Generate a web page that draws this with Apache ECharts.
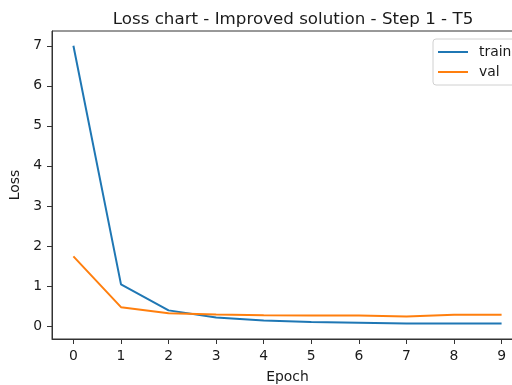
<!DOCTYPE html>
<html>
<head>
<meta charset="utf-8">
<script src="https://cdn.jsdelivr.net/npm/echarts@6/dist/echarts.min.js"></script>
<style>
  html, body { margin: 0; padding: 0; background: #fff; }
  #chart { width: 512px; height: 385px; }
</style>
</head>
<body>
<div id="chart"></div>
<script>
const epochs = [0, 1, 2, 3, 4, 5, 6, 7, 8, 9]
const trainLoss = [7.0, 1.04, 0.39, 0.21, 0.14, 0.1, 0.08, 0.06, 0.06, 0.06]
const valLoss = [1.74, 0.47, 0.32, 0.29, 0.27, 0.26, 0.26, 0.24, 0.28, 0.28]
const yTicks = [0, 1, 2, 3, 4, 5, 6, 7]

const font = "DejaVu Sans"
const ink = "#1a1a1a"
const spine = "#333"

let myChart = echarts.init(document.getElementById("chart"))

const pairs = (ys) => epochs.map((x, i) => [x, ys[i]])

myChart.setOption({
  animation: false,
  title: {
    text: "Loss chart - Improved solution - Step 1 - T5",
    left: 288,
    top: 6,
    textAlign: "center",
    textStyle: { fontFamily: font, fontSize: 16.7, fontWeight: "normal", color: ink },
  },
  legend: {
    orient: "vertical",
    left: 433,
    top: 39,
    padding: [6, 20, 6, 5],
    itemGap: 6,
    itemWidth: 30,
    itemHeight: 2,
    icon: "rect",
    borderColor: "#d0d0d0",
    borderWidth: 1,
    borderRadius: 3,
    backgroundColor: "#fff",
    textStyle: { fontFamily: font, fontSize: 13.9, lineHeight: 14, color: ink, padding: [0, 0, 0, 6] },
    data: ["train", "val"],
  },
  // axes box runs past the right edge of the picture, like the reference
  grid: {
    left: 52,
    top: 31,
    width: 471,
    height: 308,
    show: true,
    borderColor: spine,
    borderWidth: 1,
    outerBoundsMode: "none",
    containLabel: false,
  },
  xAxis: {
    type: "value",
    min: -0.45,
    max: 9.45,
    name: "Epoch",
    nameLocation: "middle",
    nameGap: 31,
    nameTextStyle: { fontFamily: font, fontSize: 13.9, color: ink },
    axisLine: { show: true, onZero: false, lineStyle: { color: spine, width: 1 } },
    axisTick: { show: true, inside: false, length: 5, customValues: epochs, lineStyle: { color: spine } },
    axisLabel: {
      customValues: epochs,
      margin: 10,
      fontFamily: font,
      fontSize: 13.9,
      color: ink,
    },
    splitLine: { show: false },
  },
  yAxis: {
    type: "value",
    min: -0.325,
    max: 7.37,
    name: "Loss",
    nameLocation: "middle",
    nameGap: 26,
    nameTextStyle: { fontFamily: font, fontSize: 13.9, color: ink },
    axisLine: { show: true, onZero: false, lineStyle: { color: spine, width: 1 } },
    axisTick: { show: true, inside: false, length: 5, customValues: yTicks, lineStyle: { color: spine } },
    axisLabel: {
      customValues: yTicks,
      margin: 10,
      fontFamily: font,
      fontSize: 13.9,
      color: ink,
    },
    splitLine: { show: false },
  },
  series: [
    {
      name: "train",
      type: "line",
      symbol: "none",
      data: pairs(trainLoss),
      lineStyle: { color: "#1f77b4", width: 2 },
      itemStyle: { color: "#1f77b4" },
    },
    {
      name: "val",
      type: "line",
      symbol: "none",
      data: pairs(valLoss),
      lineStyle: { color: "#ff7f0e", width: 2 },
      itemStyle: { color: "#ff7f0e" },
    },
  ],
})

window.addEventListener("resize", () => {
  myChart.resize()
})
</script>
</body>
</html>
